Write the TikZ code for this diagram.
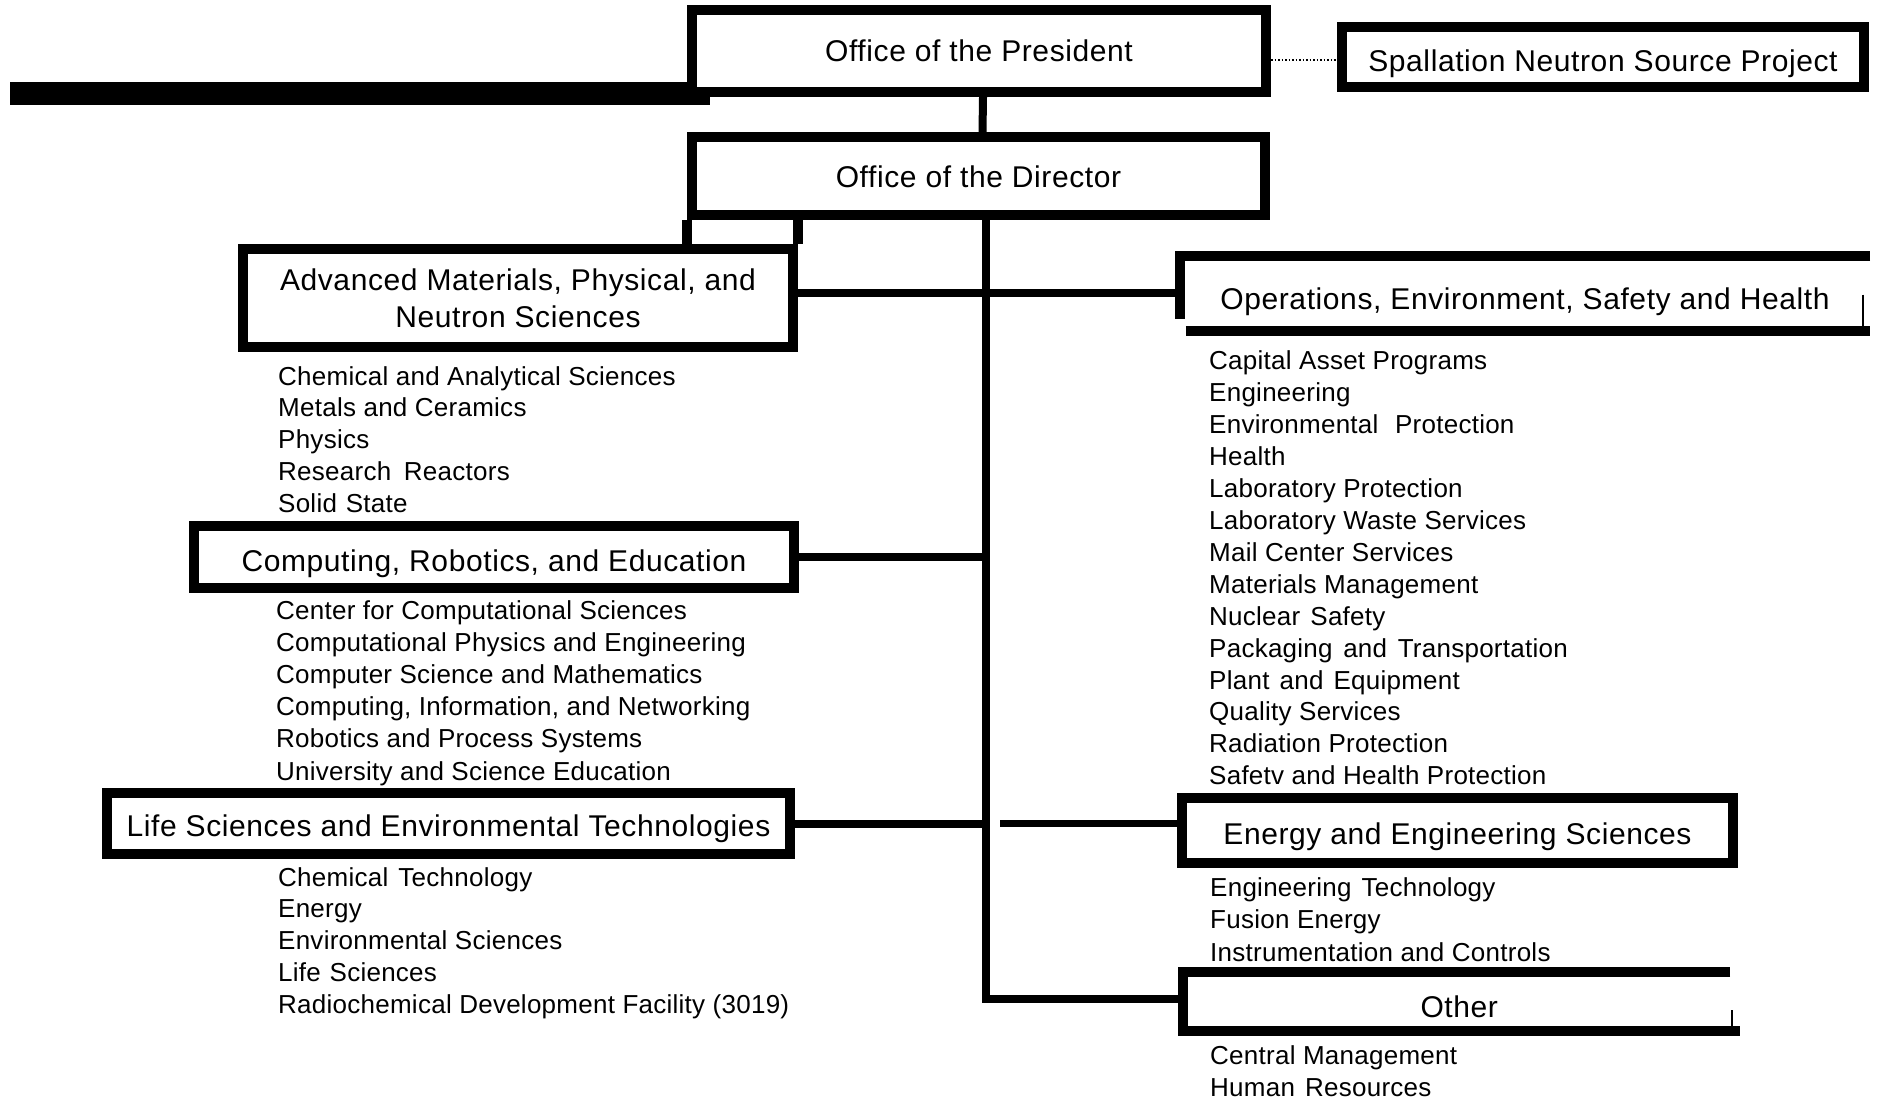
\documentclass[tikz,border=0pt]{standalone}
\usepackage{fontspec}
\setmainfont{Liberation Sans}
\newfontfamily\titlefont[LetterSpace=2]{Liberation Sans}
\newfontfamily\itemfont[LetterSpace=1]{Liberation Sans}
\tikzset{
  orgbox/.style={draw, line width=10pt, fill=white, inner sep=0pt, align=center,
     text depth=0pt, font=\titlefont\fontsize{30}{37}\selectfont},
  openbox/.style={inner sep=0pt, align=center, text depth=0pt,
     font=\titlefont\fontsize{30}{37}\selectfont},
  rulepath/.style={line width=10pt, line join=miter},
  conn/.style={line width=8pt, line join=miter},
  thinconn/.style={line width=7pt},
  tickline/.style={line width=2.5pt},
  item/.style={anchor=base west, inner sep=0pt, font=\itemfont\fontsize{26}{32}\selectfont},
}
\begin{document}
\begin{tikzpicture}[x=1pt,y=-1pt]
\fill[white] (0,0) rectangle (1877,1099);
\useasboundingbox (0,0) rectangle (1877,1099);

% thick bar at left
\fill (10,82) rectangle (710,105);

% boxes
\node[orgbox, text height=22pt, minimum width=574pt, minimum height=82pt] (pres) at (979,51) {Office of the President};
\node[orgbox, text height=30pt, minimum width=522pt, minimum height=60pt] (snsp) at (1603,57) {Spallation Neutron Source Project};
\node[orgbox, text height=24pt, minimum width=573pt, minimum height=78pt] (dir) at (978.5,176) {Office of the Director};
\node[draw, line width=10pt, fill=white, inner sep=0pt, align=center, font=\titlefont\fontsize{30}{37}\selectfont,
      minimum width=550pt, minimum height=98pt] (amp) at (518,298) {Advanced Materials, Physical, and\\Neutron Sciences};
\node[orgbox, text height=28pt, minimum width=600pt, minimum height=62pt] (cre) at (494,557) {Computing, Robotics, and Education};
\node[orgbox, text height=25pt, minimum width=683pt, minimum height=61pt] (lset) at (448.5,823.5) {Life Sciences and Environmental Technologies};
\node[orgbox, text height=27pt, minimum width=551pt, minimum height=65pt] (ees) at (1457.5,830.5) {Energy and Engineering Sciences};
\node[openbox, text height=31pt, minimum width=690pt, minimum height=74pt] (oesh) at (1525,293.5) {Operations, Environment, Safety and Health};
\node[openbox, text height=32pt, minimum width=551.5pt, minimum height=58.5pt] (other) at (1459.25,1001.75) {Other};

% open frames
\draw[rulepath] (oesh.north east) -- (oesh.north west) -- ([yshift=-62.5pt]oesh.north west);
\draw[rulepath] ([xshift=6pt]oesh.south west) -- (oesh.south east);
\draw[tickline] ([xshift=-7pt,yshift=36pt]oesh.south east) -- ([xshift=-7pt]oesh.south east);
\draw[rulepath] ([xshift=-5pt]other.north east) -- (other.north west) -- (other.south west) -- ([xshift=5pt]other.south east);
\draw[tickline] ([xshift=-3pt,yshift=21pt]other.south east) -- ([xshift=-3pt]other.south east);

% connectors
\draw[conn] ([xshift=4pt]pres.south) -- ([xshift=4pt]dir.north);
\draw[dotted, line width=1.5pt] ([yshift=-3pt]pres.east |- snsp.west) -- ([yshift=-3pt]snsp.west);
\draw[rulepath] (dir.south west) -- (dir.south west |- amp.north);
\draw[rulepath] (amp.north east) -- (amp.north east |- dir.south);
\coordinate (tb) at (986,999);
\draw[conn] (dir.south -| tb) -- (tb) -- (tb -| other.west);
\draw[conn] (amp.east |- oesh.west) -- (oesh.west);
\draw[conn] (cre.east) -- (cre.east -| tb);
\draw[conn] (lset.east) -- (lset.east -| tb);
\coordinate (eesfree) at (1000,823);
\draw[thinconn] (eesfree) -- (eesfree -| ees.west);

% lists
\foreach \t [count=\i from 0] in {Chemical and Analytical Sciences, Metals and Ceramics, Physics, Research\hspace{0.2em} Reactors, Solid\hspace{0.05em} State}
  \node[item] (ampi\i) at (278, {385+31.75*\i}) {\t};
\foreach \t [count=\i from 0] in {Center for Computational Sciences, Computational Physics and Engineering, Computer Science and Mathematics, {Computing, Information, and Networking}, Robotics and Process Systems, University and Science Education}
  \node[item] (crei\i) at (276, {619+32.2*\i}) {\t};
\foreach \t [count=\i from 0] in {Chemical\hspace{0.1em} Technology, Energy, Environmental Sciences, Life\hspace{0.05em} Sciences, {Radiochemical Development Facility (3019)}}
  \node[item] (lseti\i) at (278, {886+31.75*\i}) {\t};
\foreach \t [count=\i from 0] in {Capital Asset Programs, Engineering, Environmental\hspace{0.35em} Protection, Health, Laboratory Protection, Laboratory Waste Services, Mail Center Services, Materials Management, Nuclear\hspace{0.1em} Safety, Packaging\hspace{0.12em} and\hspace{0.12em} Transportation, Plant\hspace{0.1em} and\hspace{0.1em} Equipment, Quality Services, Radiation Protection, Safetv and Health Protection}
  \node[item] (oeshi\i) at (1209, {370+31.9*\i}) {\t};
\foreach \t [count=\i from 0] in {Engineering\hspace{0.1em} Technology, Fusion Energy, Instrumentation and Controls}
  \node[item] (eesi\i) at (1210, {896+32.5*\i}) {\t};
\foreach \t [count=\i from 0] in {Central Management, Human\hspace{0.1em} Resources}
  \node[item] (otheri\i) at (1210, {1064+32*\i}) {\t};
\end{tikzpicture}
\end{document}
